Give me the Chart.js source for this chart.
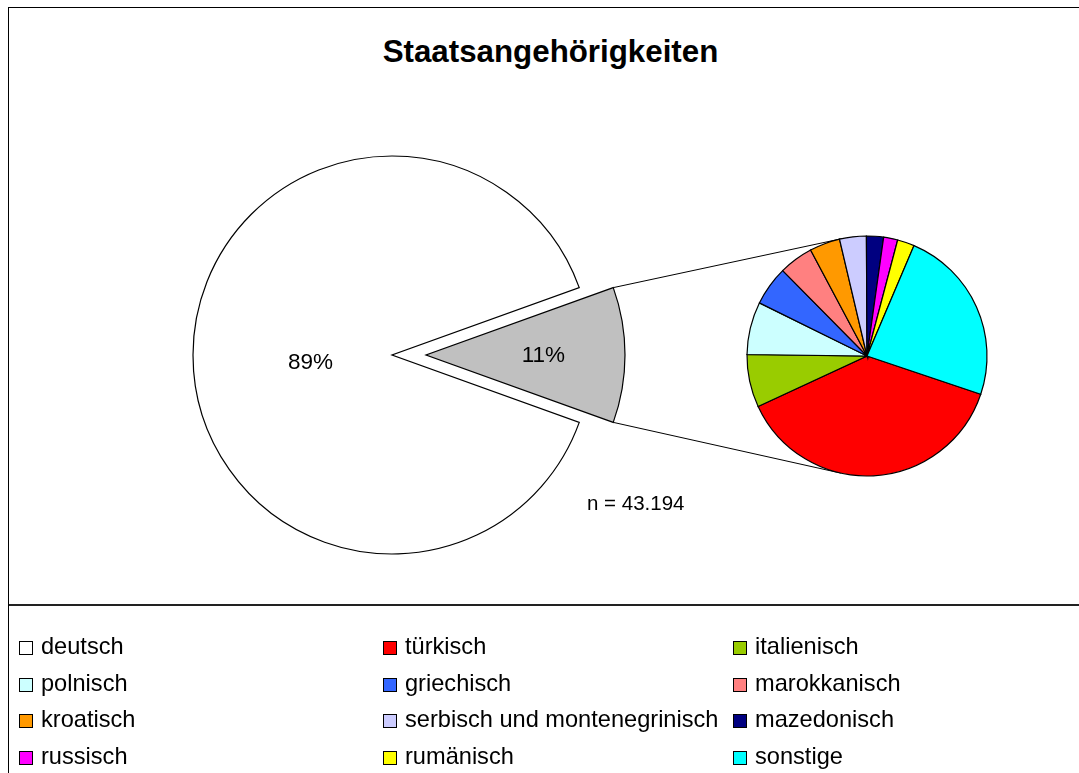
<!DOCTYPE html>
<html>
<head>
<meta charset="utf-8">
<script src="https://cdn.jsdelivr.net/npm/chart.js@4.4.0/dist/chart.umd.min.js"></script>
<style>
  html, body { margin: 0; padding: 0; background: #fff; }
  body { width: 1079px; height: 773px; overflow: hidden; position: relative; font-family: "Liberation Sans", Arial, sans-serif; color: #000; }
  #frame { position: absolute; left: 8px; top: 7px; width: 1200px; height: 900px; border-left: 1px solid #000; border-top: 1px solid #000; }
  #sep { position: absolute; left: 9px; width: 1100px; top: 604px; border-top: 2px solid #222; }
  canvas { position: absolute; left: 0; top: 0; }
  #title { position: absolute; left: 0; width: 1101px; top: 34px; text-align: center; font-weight: bold; font-size: 31.3px; line-height: 36px; }
  #nText { position: absolute; left: 587px; top: 491px; font-size: 20.5px; line-height: 24px; white-space: nowrap; }
  .item { position: absolute; font-size: 23.6px; line-height: 24px; white-space: nowrap; }
  .item i { display: inline-block; width: 12px; height: 12px; border: 1px solid #000; margin-right: 8px; vertical-align: -1px; }
</style>
</head>
<body>
<div id="frame"></div>
<div id="title">Staatsangehörigkeiten</div>
<canvas id="mainPie" width="1079" height="773"></canvas>
<canvas id="slicePie" width="1079" height="773"></canvas>
<canvas id="detailPie" width="1079" height="773"></canvas>
<div id="nText"></div>
<div id="sep"></div>
<div id="legend"></div>

<script>
// Daten
const categories = ['deutsch', 'türkisch', 'italienisch', 'polnisch', 'griechisch', 'marokkanisch',
    'kroatisch', 'serbisch und montenegrinisch', 'mazedonisch', 'russisch', 'rumänisch', 'sonstige'];
const counts = [38446, 1801, 337, 337, 252, 219, 195, 171, 109, 90, 109, 1128];
const colors = ['#ffffff', '#ff0000', '#99cc00', '#ccffff', '#3366ff', '#ff8080',
    '#ff9900', '#ccccff', '#000080', '#ff00ff', '#ffff00', '#00ffff'];
const mainLabels = ['deutsch', 'nicht deutsch'];
const mainColors = ['#ffffff', '#c0c0c0'];

const foreignCounts = counts.slice(1);
const foreignTotal = foreignCounts.reduce(function(a, b) { return a + b; }, 0);
const mainValues = [counts[0], foreignTotal];
const total = counts[0] + foreignTotal;
const foreignShare = foreignTotal / total;

function formatDe(n) {
    return String(n).replace(/\B(?=(\d{3})+(?!\d))/g, '.');
}

// Prozentwerte in den Hauptkreis schreiben
var pctLabels = {
    id: 'pctLabels',
    afterDatasetsDraw: function(chart, args, opts) {
        var arc = chart.getDatasetMeta(0).data[opts.index];
        var p = arc.getProps(['x', 'y', 'startAngle', 'endAngle', 'outerRadius'], true);
        var vals = chart.data.datasets[0].data;
        var sum = vals.reduce(function(a, b) { return a + b; }, 0);
        var mid = (p.startAngle + p.endAngle) / 2;
        var x = p.x + Math.cos(mid) * p.outerRadius * opts.dist;
        var y = p.y + Math.sin(mid) * p.outerRadius * opts.dist + (opts.dy || 0);
        var ctx = chart.ctx;
        ctx.save();
        ctx.font = '22.5px "Liberation Sans", Arial, sans-serif';
        ctx.fillStyle = '#000';
        ctx.textAlign = 'center';
        ctx.textBaseline = 'middle';
        ctx.fillText(Math.round(vals[opts.index] / sum * 100) + '%', x, y);
        ctx.restore();
    }
};

function pieOptions(rotation, radius, padding, extra) {
    return {
        responsive: false,
        animation: false,
        rotation: rotation,
        radius: radius,
        layout: { padding: padding },
        elements: { arc: { borderJoinStyle: 'miter' } },
        plugins: Object.assign({ legend: { display: false }, tooltip: { enabled: false } }, extra || {})
    };
}

var mainRotation = 90 + foreignShare * 180;

var mainChart = new Chart(document.getElementById('mainPie'), {
    type: 'pie',
    data: {
        labels: mainLabels,
        datasets: [{
            data: mainValues,
            backgroundColor: [mainColors[0], 'rgba(0,0,0,0)'],
            borderColor: ['#000', 'rgba(0,0,0,0)'],
            borderWidth: 1.2
        }]
    },
    options: pieOptions(mainRotation, 199, { left: 0, top: 0, right: 295, bottom: 63 },
        { pctLabels: { index: 0, dist: 0.41, dy: 8 } }),
    plugins: [pctLabels]
});

// herausgezogenes Segment, um 34px nach rechts versetzt
var sliceChart = new Chart(document.getElementById('slicePie'), {
    type: 'pie',
    data: {
        labels: mainLabels,
        datasets: [{
            data: mainValues,
            backgroundColor: ['rgba(0,0,0,0)', mainColors[1]],
            borderColor: ['rgba(0,0,0,0)', '#000'],
            borderWidth: 1.2
        }]
    },
    options: pieOptions(mainRotation, 199, { left: 0, top: 0, right: 227, bottom: 63 },
        { pctLabels: { index: 1, dist: 0.59, dy: 1 } }),
    plugins: [pctLabels]
});

// Verbindungslinien vom Segment zum zweiten Kreis (Tangenten)
var connectors = {
    id: 'connectors',
    beforeDatasetsDraw: function(chart) {
        var s = sliceChart.getDatasetMeta(0).data[1].getProps(['x', 'y', 'startAngle', 'endAngle', 'outerRadius'], true);
        var d = chart.getDatasetMeta(0).data[0].getProps(['x', 'y', 'outerRadius'], true);
        var ctx = chart.ctx;
        ctx.save();
        ctx.strokeStyle = '#000';
        ctx.lineWidth = 1;
        [s.startAngle, s.endAngle].forEach(function(a, k) {
            var px = s.x + s.outerRadius * Math.cos(a);
            var py = s.y + s.outerRadius * Math.sin(a);
            var dx = px - d.x, dy = py - d.y;
            var dist = Math.sqrt(dx * dx + dy * dy);
            var base = Math.atan2(dy, dx);
            var t = Math.acos(d.outerRadius / dist);
            var ang = k === 0 ? base + t : base - t;
            ctx.beginPath();
            ctx.moveTo(px, py);
            ctx.lineTo(d.x + d.outerRadius * Math.cos(ang), d.y + d.outerRadius * Math.sin(ang));
            ctx.stroke();
        });
        ctx.restore();
    }
};

var detailChart = new Chart(document.getElementById('detailPie'), {
    type: 'pie',
    data: {
        labels: categories.slice(1),
        datasets: [{
            data: foreignCounts,
            backgroundColor: colors.slice(1),
            borderColor: '#000',
            borderWidth: 1.2
        }]
    },
    options: pieOptions(108.6, 120, { left: 655, top: 0, right: 0, bottom: 61 }),
    plugins: [connectors]
});

document.getElementById('nText').textContent = 'n = ' + formatDe(total);

// Legende in drei Spalten
var colX = [19, 383, 733];
var rowY = [634, 671, 707, 744];
var legend = document.getElementById('legend');
categories.forEach(function(name, i) {
    var div = document.createElement('div');
    div.className = 'item';
    div.style.left = colX[i % 3] + 'px';
    div.style.top = rowY[Math.floor(i / 3)] + 'px';
    var box = document.createElement('i');
    box.style.background = colors[i];
    div.appendChild(box);
    div.appendChild(document.createTextNode(name));
    legend.appendChild(div);
});
</script>
</body>
</html>
